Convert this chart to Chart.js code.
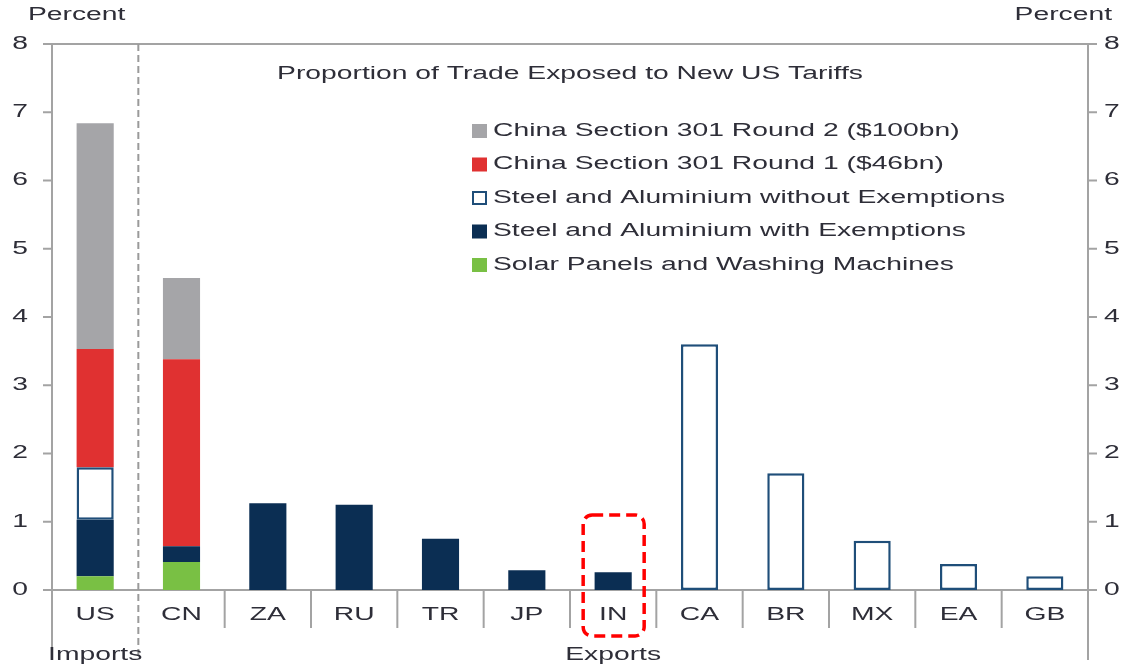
<!DOCTYPE html>
<html lang="en">
<head>
<meta charset="UTF-8">
<script src="https://cdn.jsdelivr.net/npm/chart.js@4.4.1/dist/chart.umd.min.js"></script>
<title>Proportion of Trade Exposed to New US Tariffs</title>
<style>
  body { margin: 0; background: #fff; }
  #wrap { width: 1127px; height: 666px; position: relative; }
</style>
</head>
<body>
<div id="wrap"><canvas id="myChart"></canvas></div>
<script>
// data (percent of trade), stacked bottom-up
const categories = ['US', 'CN', 'ZA', 'RU', 'TR', 'JP', 'IN', 'CA', 'BR', 'MX', 'EA', 'GB'];
const solarWashing   = [0.20, 0.41, null, null, null, null, null, null, null, null, null, null];
const steelWithEx    = [0.83, 0.23, 1.27, 1.25, 0.75, 0.29, 0.26, null, null, null, null, null];
const steelWithoutEx = [0.77, null, null, null, null, null, null, 3.60, 1.71, 0.72, 0.38, 0.20];
const chinaRound1    = [1.73, 2.74, null, null, null, null, null, null, null, null, null, null];
const chinaRound2    = [3.31, 1.19, null, null, null, null, null, null, null, null, null, null];
const yTicks = [0, 1, 2, 3, 4, 5, 6, 7, 8];

const TXT = '#2e2e38';
const AXIS = '#a3a3a3';
const SX = 1.57; // the source picture is stretched sideways
const FONT = '18px "Liberation Sans", Arial, sans-serif';

function txt(ctx, s, x, y, align, base) {
  ctx.save();
  ctx.translate(x, y);
  ctx.scale(SX, 1);
  ctx.font = FONT;
  ctx.fillStyle = TXT;
  ctx.textAlign = align || 'left';
  ctx.textBaseline = base || 'middle';
  ctx.fillText(s, 0, 0);
  ctx.restore();
}

function line(ctx, x1, y1, x2, y2, color, w, dash) {
  ctx.save();
  ctx.strokeStyle = color;
  ctx.lineWidth = w;
  ctx.setLineDash(dash || []);
  ctx.beginPath();
  ctx.moveTo(x1, y1);
  ctx.lineTo(x2, y2);
  ctx.stroke();
  ctx.restore();
}

// axes, separators, labels, legend, annotation
const decor = {
  id: 'decor',
  beforeDatasetsDraw(chart) {
    const ctx = chart.ctx, a = chart.chartArea;
    const x = chart.scales.x, y = chart.scales.y;
    const y0 = y.getPixelForValue(0), yTop = y.getPixelForValue(8);
    const step = x.getPixelForValue(1) - x.getPixelForValue(0);
    const bottom = y0 + 70;

    // top line and zero line, with tick stubs
    line(ctx, a.left - 9, yTop, a.right + 9, yTop, AXIS, 2);
    line(ctx, a.left - 9, y0, a.right + 9, y0, AXIS, 2);
    yTicks.forEach(v => {
      const py = y.getPixelForValue(v);
      line(ctx, a.left - 9, py, a.left, py, AXIS, 2);
      line(ctx, a.right, py, a.right + 9, py, AXIS, 2);
    });
    // side axes run down past the labels
    line(ctx, a.left, yTop, a.left, bottom, AXIS, 2);
    line(ctx, a.right, yTop, a.right, bottom, AXIS, 2);
    // imports / exports split
    const split = x.getPixelForValue(0) + step / 2;
    line(ctx, split, yTop, split, bottom, '#9a9a9a', 2, [7, 4]);
    // category separators
    for (let i = 1; i < categories.length - 1; i++) {
      const px = x.getPixelForValue(i) + step / 2;
      line(ctx, px, y0, px, y0 + 38, AXIS, 2);
    }
  },
  afterDraw(chart) {
    const ctx = chart.ctx, a = chart.chartArea;
    const x = chart.scales.x, y = chart.scales.y;
    const y0 = y.getPixelForValue(0);

    yTicks.forEach(v => {
      const py = y.getPixelForValue(v);
      txt(ctx, String(v), a.left - 24, py, 'right');
      txt(ctx, String(v), a.right + 16, py, 'left');
    });
    categories.forEach((c, i) => txt(ctx, c, x.getPixelForValue(i), y0 + 25, 'center'));

    txt(ctx, 'Percent', 28, 15, 'left');
    txt(ctx, 'Percent', 1112, 15, 'right');
    txt(ctx, 'Imports', x.getPixelForValue(0), y0 + 65, 'center');
    txt(ctx, 'Exports', (x.getPixelForValue(1) + x.getPixelForValue(categories.length - 1)) / 2, y0 + 65, 'center');

    txt(ctx, 'Proportion of Trade Exposed to New US Tariffs', (a.left + a.right) / 2, a.top + 30, 'center');

    // legend, top series first
    const ds = chart.data.datasets.slice().reverse();
    const lx = a.left + 420, ly = a.top + 87;
    ds.forEach((d, i) => {
      const ry = ly + i * 33.5;
      ctx.save();
      ctx.fillStyle = d.backgroundColor;
      ctx.fillRect(lx, ry - 7, 15, 14);
      if (d.borderWidth) {
        ctx.strokeStyle = d.borderColor;
        ctx.lineWidth = 2;
        ctx.strokeRect(lx + 1, ry - 6, 13, 12);
      }
      ctx.restore();
      txt(ctx, d.label, lx + 21, ry, 'left');
    });

    // red dashed box round IN
    const cx = x.getPixelForValue(categories.indexOf('IN'));
    ctx.save();
    ctx.strokeStyle = '#ff0000';
    ctx.lineWidth = 3.5;
    ctx.setLineDash([11, 6]);
    ctx.beginPath();
    ctx.roundRect(cx - 30, y.getPixelForValue(1.1), 61, 121, 9);
    ctx.stroke();
    ctx.restore();
  }
};

const ctx = document.getElementById('myChart').getContext('2d');
const myChart = new Chart(ctx, {
  type: 'bar',
  data: {
    labels: categories,
    datasets: [
      { label: 'Solar Panels and Washing Machines', data: solarWashing, backgroundColor: '#79c044', borderWidth: 0 },
      { label: 'Steel and Aluminium with Exemptions', data: steelWithEx, backgroundColor: '#0b2e53', borderWidth: 0 },
      { label: 'Steel and Aluminium without Exemptions', data: steelWithoutEx, backgroundColor: '#ffffff',
        borderColor: '#1f4e79', borderWidth: 2.5, borderSkipped: false },
      { label: 'China Section 301 Round 1 ($46bn)', data: chinaRound1, backgroundColor: '#e03131', borderWidth: 0 },
      { label: 'China Section 301 Round 2 ($100bn)', data: chinaRound2, backgroundColor: '#a5a5a8', borderWidth: 0 }
    ]
  },
  options: {
    responsive: true,
    maintainAspectRatio: false,
    animation: false,
    barPercentage: 0.43,
    categoryPercentage: 1,
    layout: { padding: { left: 52, right: 39, top: 44, bottom: 76 } },
    plugins: { legend: { display: false }, tooltip: { enabled: false } },
    scales: {
      x: { stacked: true, display: false },
      y: { stacked: true, display: false, min: 0, max: 8 }
    }
  },
  plugins: [decor]
});
</script>
</body>
</html>
